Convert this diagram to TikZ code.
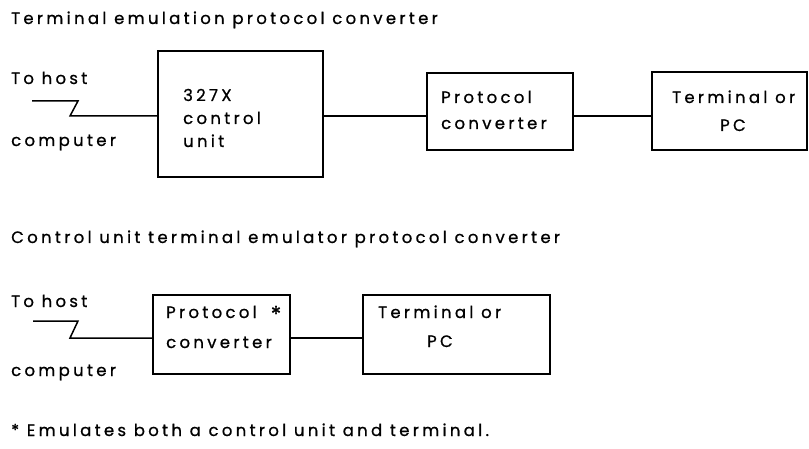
\documentclass[tikz,border=0pt]{standalone}
\usepackage{fontspec}
\setmainfont{Poppins}[LetterSpace=20,FakeBold=0.8]
\begin{document}
\begin{tikzpicture}[x=1pt,y=-1pt,
  box/.style={draw, line width=1.5pt, inner sep=0pt},
  txt/.style={anchor=base west, inner sep=0pt, font=\fontsize{16.5}{19}\selectfont},
  ctxt/.style={anchor=base, inner sep=0pt, font=\fontsize{16.5}{19}\selectfont},
  wire/.style={line width=1.5pt}]
\useasboundingbox (0,0) rectangle (809,449);
% ---------- top diagram ----------
\node[txt] (t1) at (11,24) {Terminal emulation protocol converter};
\node[txt] (h1) at (11,84) {To host};
\node[txt] (c1) at (11,146) {computer};
\node[box, minimum width=165pt, minimum height=126pt] (cu) at (240.5,114) {};
\node[txt] (cu1) at (183,101) {327X};
\node[txt] (cu2) at (183,124) {control};
\node[txt] (cu3) at (183,147) {unit};
\node[box, minimum width=146pt, minimum height=77pt] (pc) at (500,111.5) {};
\node[txt] (pc1) at (441,103) {Protocol};
\node[txt] (pc2) at (441,129) {converter};
\node[box, minimum width=155pt, minimum height=78pt] (tm) at (729.5,111) {};
\node[txt] (tm1) at (672,103) {Terminal or};
\node[ctxt] (tm2) at (733,131) {PC};
\coordinate (z1a) at (32,101);
\coordinate (z1b) at (78,101);
\coordinate (z1c) at (70,116);
\draw[wire, line join=miter] (z1a) -- (z1b) -- (z1c) -- (cu.west |- z1c);
\draw[wire] (cu.east |- z1c) -- (pc.west |- z1c);
\draw[wire] (pc.east |- z1c) -- (tm.west |- z1c);
% ---------- bottom diagram ----------
\node[txt] (t2) at (11,243) {Control unit terminal emulator protocol converter};
\node[txt] (h2) at (11,307) {To host};
\node[txt] (c2) at (11,376) {computer};
\node[box, minimum width=137pt, minimum height=79pt] (pb) at (221.5,334.5) {};
\node[txt] (pb1) at (166,318) {Protocol};
\node[inner sep=0pt, font=\fontsize{22}{24}\selectfont] (ast) at (276,314) {*};
\node[txt] (pb2) at (166,348) {converter};
\node[box, minimum width=187pt, minimum height=79pt] (tb) at (456.5,334.5) {};
\node[txt] (tb1) at (378,318) {Terminal or};
\node[ctxt] (tb2) at (440,347) {PC};
\coordinate (z2a) at (33,321);
\coordinate (z2b) at (78,321);
\coordinate (z2c) at (70,338);
\draw[wire, line join=miter] (z2a) -- (z2b) -- (z2c) -- (pb.west |- z2c);
\draw[wire] (pb.east |- z2c) -- (tb.west |- z2c);
% ---------- footnote ----------
\node[txt] (fn) at (11,436) {* Emulates both a control unit and terminal.};
\end{tikzpicture}
\end{document}
